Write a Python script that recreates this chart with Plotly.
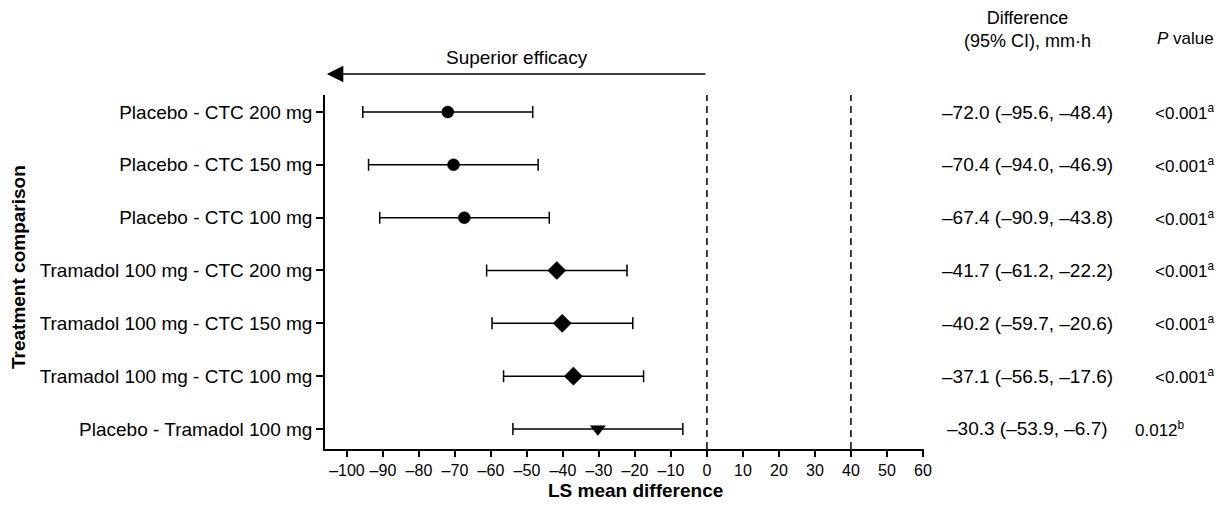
import plotly.graph_objects as go

categories = ["Placebo - CTC 200 mg", "Placebo - CTC 150 mg", "Placebo - CTC 100 mg",
              "Tramadol 100 mg - CTC 200 mg", "Tramadol 100 mg - CTC 150 mg",
              "Tramadol 100 mg - CTC 100 mg", "Placebo - Tramadol 100 mg"]
estimates = [-72.0, -70.4, -67.4, -41.7, -40.2, -37.1, -30.3]
ci_low = [-95.6, -94.0, -90.9, -61.2, -59.7, -56.5, -53.9]
ci_high = [-48.4, -46.9, -43.8, -22.2, -20.6, -17.6, -6.7]
symbols = ["circle", "circle", "circle", "diamond", "diamond", "diamond", "triangle-down"]
diff_text = ["–72.0 (–95.6, –48.4)", "–70.4 (–94.0, –46.9)", "–67.4 (–90.9, –43.8)",
             "–41.7 (–61.2, –22.2)", "–40.2 (–59.7, –20.6)", "–37.1 (–56.5, –17.6)",
             "–30.3 (–53.9, –6.7)"]
p_text = ["<0.001<sup>a</sup>"] * 6 + ["0.012<sup>b</sup>"]
tick_vals = list(range(-100, 61, 10))
tick_text = [("–" + str(abs(v))) if v < 0 else str(v) for v in tick_vals]
ref_lines = [0, 40]

FONT = "Liberation Sans, Arial, sans-serif"
OFF = 8  # page body margin
W, H = 1222 - 2 * OFF, 511 - 2 * OFF
L, PW = 317, 599
T, PH = 87, 354
R = W - L - PW
B = H - T - PH

def px_x(a):
    return (a - OFF - L) / PW

def px_y(a):
    return (T + PH - (a - OFF)) / PH

marker_sizes = [12, 12, 12, 14, 14, 14, 13]
p_x = [1184] * 6 + [1160]

ypos = list(range(len(categories)))

fig = go.Figure()
fig.add_trace(go.Scatter(
    x=estimates, y=ypos, mode="markers",
    marker=dict(symbol=symbols, size=marker_sizes, color="black", opacity=1,
                line=dict(color="black", width=0.5)),
    error_x=dict(type="data", symmetric=False,
                 array=[h - e for h, e in zip(ci_high, estimates)],
                 arrayminus=[e - l for e, l in zip(estimates, ci_low)],
                 color="black", thickness=1.5, width=6),
    showlegend=False, cliponaxis=False))

for v in ref_lines:
    fig.add_shape(type="line", xref="x", yref="paper", x0=v, x1=v, y0=0, y1=1,
                  line=dict(color="black", width=1.5, dash="7px,5px"))

def txt(x, y, text, size=19, xref="paper", yref="paper", **kw):
    fig.add_annotation(x=x, y=y, xref=xref, yref=yref, text=text, showarrow=False,
                       xanchor="center", yanchor="middle",
                       font=dict(size=size, color="black", family=FONT), **kw)

# Arrow
fig.add_annotation(x=-105.6, y=px_y(74), xref="x", yref="paper",
                   ax=0, ay=0, axref="x", ayref="pixel",
                   showarrow=True, arrowhead=2, arrowsize=2.2, arrowwidth=1.5,
                   arrowcolor="black", text="")
txt(px_x(517), px_y(57), "Superior efficacy")

# Headers
txt(px_x(1027), px_y(29), "Difference<br>(95% CI), mm·h", size=18)
txt(px_x(1185), px_y(39), "<i>P</i> value", size=17)

for i in ypos:
    txt(px_x(1027), i, diff_text[i], yref="y")
    txt(px_x(p_x[i]), i, p_text[i], yref="y", size=17)

# Axis titles
txt(px_x(635), px_y(491), "<b>LS mean difference</b>")
txt(px_x(18), px_y(267), "<b>Treatment comparison</b>", textangle=-90)

fig.update_layout(
    width=W, height=H,
    margin=dict(l=L, r=R, t=T, b=B, autoexpand=False),
    paper_bgcolor="white", plot_bgcolor="white",
    font=dict(family=FONT, size=19, color="black"),
    xaxis=dict(range=[-106.1, 60.3], tickvals=tick_vals, ticktext=tick_text,
               showgrid=False, zeroline=False, showline=True, linecolor="black",
               linewidth=1.5, ticks="outside", ticklen=6, tickwidth=1.5,
               tickcolor="black", tickfont=dict(size=16), automargin=False),
    yaxis=dict(range=[6.379, -0.322], tickvals=ypos, ticktext=categories,
               showgrid=False, zeroline=False, showline=True, linecolor="black",
               linewidth=1.5, ticks="outside", ticklen=7, tickwidth=1.5,
               tickcolor="black", tickfont=dict(size=19), automargin=False),
)

fig.write_html("out.html")
